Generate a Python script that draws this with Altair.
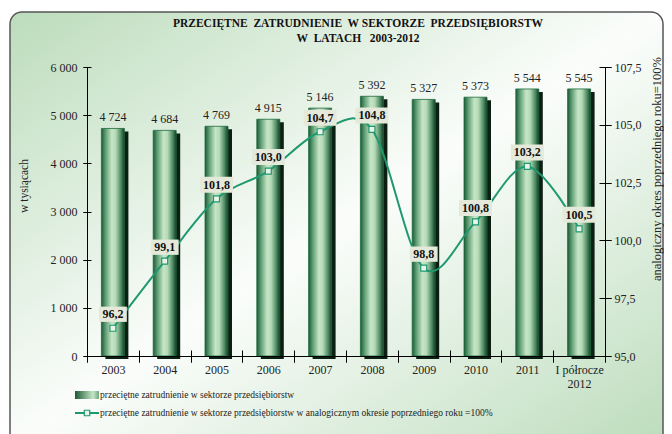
import altair as alt
import pandas as pd

years = ["2003", "2004", "2005", "2006", "2007", "2008", "2009", "2010", "2011", "I półrocze|2012"]
employment = [4724, 4684, 4769, 4915, 5146, 5392, 5327, 5373, 5544, 5545]
index_prev = [96.2, 99.1, 101.8, 103.0, 104.7, 104.8, 98.8, 100.8, 103.2, 100.5]
left_ticks = [0, 1000, 2000, 3000, 4000, 5000, 6000]
right_ticks = [95.0, 97.5, 100.0, 102.5, 105.0, 107.5]

title_line1 = "PRZECIĘTNE\u00a0 ZATRUDNIENIE\u00a0 W SEKTORZE\u00a0 PRZEDSIĘBIORSTW"
title_line2 = "W\u00a0 LATACH\u00a0\u00a0 2003-2012"
left_title = "w tysiącach"
right_title = "analogiczny okres poprzedniego roku=100%"
legend_bar = "przeciętne zatrudnienie w sektorze przedsiębiorstw"
legend_line = "przeciętne zatrudnienie w sektorze przedsiębiorstw w analogicznym okresie poprzedniego roku =100%"

df = pd.DataFrame({"year": years, "emp": employment, "idx": index_prev})
one = pd.DataFrame({"k": [0]})

SERIF = "Liberation Serif"
LINE = "#1f9870"

x_scale = alt.Scale(paddingInner=0, paddingOuter=0)
x_enc = alt.X("year:N", sort=None, scale=x_scale,
              axis=alt.Axis(title=None, labelAngle=0, labelFont=SERIF, labelFontSize=12,
                            labelColor="#222", tickBand="extent", tickSize=6, labelPadding=2,
                            labelExpr="split(datum.label, '|')", labelLineHeight=14,
                            domainColor="#000", tickColor="#000", zindex=2))
x_noaxis = alt.X("year:N", sort=None, scale=x_scale, axis=None)

bar_grad = alt.Gradient(gradient="linear", x1=0, x2=1, y1=0, y2=0, stops=[
    alt.GradientStop(offset=0, color="#1c5a35"),
    alt.GradientStop(offset=0.18, color="#5f9e74"),
    alt.GradientStop(offset=0.45, color="#c6e6c6"),
    alt.GradientStop(offset=0.62, color="#b5dab7"),
    alt.GradientStop(offset=0.85, color="#4d8a62"),
    alt.GradientStop(offset=1, color="#153d25")])

legend_grad = alt.Gradient(gradient="linear", x1=0, x2=1, y1=0, y2=0, stops=[
    alt.GradientStop(offset=0, color="#1c5a35"),
    alt.GradientStop(offset=0.75, color="#c6e6c6"),
    alt.GradientStop(offset=1, color="#6fa884")])

bg_grad = alt.Gradient(gradient="linear", x1=0, y1=0, x2=1, y2=1, stops=[
    alt.GradientStop(offset=0, color="#bcdcbc"),
    alt.GradientStop(offset=0.5, color="#fbfdfb"),
    alt.GradientStop(offset=1, color="#bcdcbc")])

left_scale = alt.Scale(domain=[0, 6000], nice=False)
right_scale = alt.Scale(domain=[95, 107.5], nice=False, zero=False)

y_left = alt.Y("emp:Q", scale=left_scale,
               axis=alt.Axis(orient="left", values=left_ticks, grid=False, title=None,
                             labelExpr="replace(format(datum.value, ',d'), ',', ' ')",
                             labelFont=SERIF, labelFontSize=12, labelColor="#222",
                             tickSize=4, labelPadding=6, domainColor="#000", tickColor="#000",
                             zindex=2))

y_right = alt.Y("idx:Q", scale=right_scale,
                axis=alt.Axis(orient="right", values=right_ticks, grid=False, title=None,
                              labelExpr="replace(format(datum.value, '.1f'), '.', ',')",
                              labelFont=SERIF, labelFontSize=12, labelColor="#222",
                              tickSize=6, labelPadding=3, domainColor="#000", tickColor="#000",
                              zindex=2))

frame = alt.Chart(one).mark_rect(fill=bg_grad, stroke="#555", strokeWidth=1.5,
                                 cornerRadius=12).encode(
    x=alt.value(-77), x2=alt.value(576), y=alt.value(-55), y2=alt.value(380))

title1 = alt.Chart(one).mark_text(font=SERIF, fontSize=11.5, fontWeight="bold", color="#111",
                                  baseline="middle").encode(
    x=alt.value(271), y=alt.value(-43), text=alt.value(title_line1))
title2 = alt.Chart(one).mark_text(font=SERIF, fontSize=11.5, fontWeight="bold", color="#111",
                                  baseline="middle").encode(
    x=alt.value(271), y=alt.value(-28), text=alt.value(title_line2))

ltitle = alt.Chart(one).mark_text(font=SERIF, fontSize=11.5, color="#222", angle=270,
                                  align="center", baseline="middle").encode(
    x=alt.value(-62), y=alt.value(119), text=alt.value(left_title))
rtitle = alt.Chart(one).mark_text(font=SERIF, fontSize=12.5, color="#222", angle=270,
                                  align="center", baseline="middle").encode(
    x=alt.value(570), y=alt.value(102), text=alt.value(right_title))

base = alt.Chart(df)

shadow = base.mark_bar(size=23, color="#0b1f12", xOffset=4, yOffset=3, y2Offset=0).encode(
    x=x_enc, y=y_left)
bars = base.mark_bar(size=23, fill=bar_grad, stroke="#1d6b3e", strokeWidth=0.8).encode(
    x=x_enc, y=y_left)
bar_text = base.transform_calculate(
    lab="replace(format(datum.emp, ',d'), ',', ' ')"
).mark_text(baseline="bottom", dy=-4, font=SERIF, fontSize=12, color="#222").encode(
    x=x_enc, y=y_left, text="lab:N")

bar_group = alt.layer(shadow, bars, bar_text)

line = base.mark_line(color=LINE, strokeWidth=2, interpolate="cardinal").encode(x=x_noaxis, y=y_right)
pts = base.mark_point(shape="square", size=36, filled=True, fill="#eaf3e8", stroke=LINE,
                      strokeWidth=1.2, opacity=1).encode(x=x_noaxis, y=y_right)
lab_base = base.transform_calculate(
    lab="replace(format(datum.idx, '.1f'), '.', ',')",
    w="length(replace(format(datum.idx, '.1f'), '.', ',')) > 4 ? 'w' : 'n'")
boxes = lab_base.mark_point(filled=True, fill="#e4e9da", strokeWidth=0, size=1156,
                            yOffset=-14, opacity=1).encode(
    x=x_noaxis, y=y_right,
    shape=alt.Shape("w:N", scale=alt.Scale(domain=["n", "w"],
                                           range=["M-0.82,-0.45H0.82V0.45H-0.82Z",
                                                  "M-0.97,-0.47H0.97V0.47H-0.97Z"]),
                    legend=None))
lab_text = lab_base.mark_text(font=SERIF, fontWeight="bold", fontSize=12, color="#111",
                              dy=-14, baseline="middle").encode(x=x_noaxis, y=y_right, text="lab:N")

line_group = alt.layer(line, pts, boxes, lab_text)

# inner halves of the crossing tick marks
ticks_x = base.mark_point(opacity=0).encode(
    x=alt.X("year:N", sort=None, scale=x_scale,
            axis=alt.Axis(orient="top", offset=-295, labels=False, domain=False, tickSize=12,
                          tickBand="extent", tickColor="#000", title=None, zindex=2)))
ticks_l = base.mark_point(opacity=0).encode(
    y=alt.Y("emp:Q", scale=left_scale,
            axis=alt.Axis(orient="right", offset=-522, values=left_ticks, labels=False,
                          domain=False, tickSize=8, tickColor="#000", title=None, grid=False,
                          zindex=2)))
ticks_r = base.mark_point(opacity=0).encode(
    y=alt.Y("idx:Q", scale=right_scale,
            axis=alt.Axis(orient="left", offset=-524, values=right_ticks, labels=False,
                          domain=False, tickSize=12, tickColor="#000", title=None, grid=False,
                          zindex=2)))

leg_rect = alt.Chart(one).mark_rect(fill=legend_grad).encode(
    x=alt.value(-12), x2=alt.value(12), y=alt.value(324), y2=alt.value(332))
leg_t1 = alt.Chart(one).mark_text(align="left", baseline="middle", font=SERIF, fontSize=9.5,
                                  color="#222").encode(
    x=alt.value(13), y=alt.value(328), text=alt.value(legend_bar))
leg_rule = alt.Chart(one).mark_rule(color=LINE, strokeWidth=2).encode(
    x=alt.value(-12), x2=alt.value(12), y=alt.value(346))
leg_pt = alt.Chart(one).mark_point(shape="square", size=30, filled=True, fill="#eaf3e8",
                                   stroke=LINE, strokeWidth=1.2, opacity=1).encode(
    x=alt.value(0), y=alt.value(346))
leg_t2 = alt.Chart(one).mark_text(align="left", baseline="middle", font=SERIF, fontSize=9.5,
                                  color="#222").encode(
    x=alt.value(13), y=alt.value(346), text=alt.value(legend_line))

chart = alt.layer(
    frame, title1, title2, ltitle, rtitle, bar_group, line_group, ticks_x, ticks_l, ticks_r,
    leg_rect, leg_t1, leg_rule, leg_pt, leg_t2
).resolve_scale(x="independent", y="independent").properties(
    width=518, height=289,
    padding={"left": 79, "top": 59, "right": 59, "bottom": 78},
    autosize=alt.AutoSizeParams(type="none"),
).configure_view(stroke=None)

chart.save("out.html", embed_options={"renderer": "svg", "actions": False})
